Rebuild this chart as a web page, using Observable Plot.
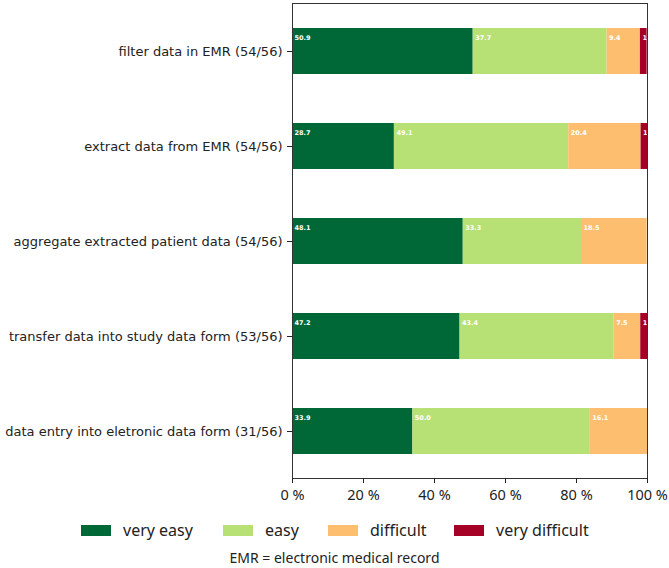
<!DOCTYPE html>
<html>
<head>
<meta charset="utf-8">
<script src="https://cdn.jsdelivr.net/npm/d3@7"></script>
<script src="https://cdn.jsdelivr.net/npm/@observablehq/plot@0.6"></script>
<style>
  body { margin: 0; background: #fff; }
  #wrap { width: 669px; }
  #legend { height: 36px; position: relative; font-family: "Noto Sans", sans-serif; font-size: 16px; color: #222; }
  .item { position: absolute; top: 0; height: 36px; display: flex; align-items: center; }
  .sw { width: 30px; height: 11px; margin-right: 12px; }
  #caption { font-family: "Noto Sans", sans-serif; font-size: 14px; color: #222; text-align: center; height: 20px; line-height: 20px; padding-left: 0px; }
</style>
</head>
<body>
<div id="wrap">
  <div id="chart"></div>
  <div id="legend"></div>
  <div id="caption">EMR = electronic medical record</div>
</div>
<script>
const tasks = [
  "filter data in EMR (54/56)",
  "extract data from EMR (54/56)",
  "aggregate extracted patient data (54/56)",
  "transfer data into study data form (53/56)",
  "data entry into eletronic data form (31/56)"
];
const levels = ["very easy", "easy", "difficult", "very difficult"];
const colors = ["#006837", "#b7e075", "#fdbf6f", "#a50026"];
const veryEasy = [50.9, 28.7, 48.1, 47.2, 33.9];
const easy = [37.7, 49.1, 33.3, 43.4, 50.0];
const difficult = [9.4, 20.4, 18.5, 7.5, 16.1];
const veryDifficult = [1.9, 1.9, 0, 1.9, 0];
const xTicks = [0, 20, 40, 60, 80, 100];

const series = [veryEasy, easy, difficult, veryDifficult];
const data = [];
tasks.forEach((t, i) => {
  levels.forEach((l, j) => {
    if (series[j][i] > 0) data.push({task: t, level: l, value: series[j][i]});
  });
});

const chart = Plot.plot({
  width: 669,
  height: 512,
  marginLeft: 292,
  marginRight: 22,
  marginTop: 3,
  marginBottom: 34,
  style: {fontFamily: "DejaVu Sans", fontSize: "13px", color: "#222", background: "#fff"},
  x: {domain: [0, 100]},
  y: {domain: tasks, paddingInner: 0.52, paddingOuter: 0.26},
  color: {domain: levels, range: colors},
  marks: [
    Plot.barX(data, Plot.stackX({x: "value", y: "task", fill: "level"})),
    Plot.text(data, Plot.stackX1({
      x: "value", y: "task",
      text: d => d.value.toFixed(1),
      fill: "white", fontSize: 6.5, fontWeight: "bold",
      textAnchor: "start", dx: 2, dy: -14, clip: true
    })),
    Plot.frame({stroke: "#333", strokeWidth: 1}),
    Plot.axisY({tickSize: 5, tickPadding: 5, fontSize: 13, label: null}),
    Plot.axisX({ticks: xTicks, tickFormat: d => d + " %", tickSize: 5, tickPadding: 6, fontSize: 14.5, fontFamily: "Noto Sans", label: null})
  ]
});
document.getElementById("chart").appendChild(chart);

const legend = document.getElementById("legend");
const lefts = [81, 223, 328, 454];
levels.forEach((l, j) => {
  const it = document.createElement("div");
  it.className = "item";
  it.style.left = lefts[j] + "px";
  it.innerHTML = `<div class="sw" style="background:${colors[j]}"></div><span>${l}</span>`;
  legend.appendChild(it);
});
</script>
</body>
</html>
